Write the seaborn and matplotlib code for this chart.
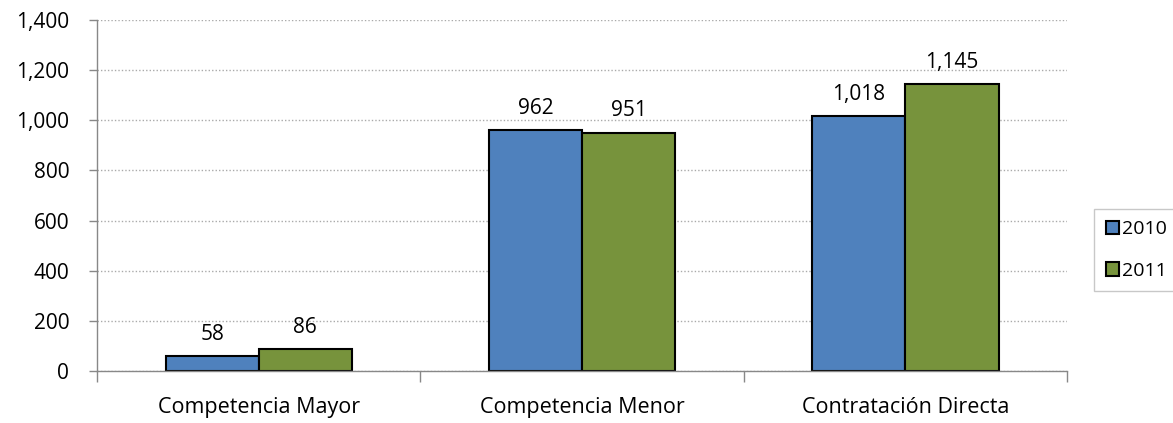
import pandas as pd
import matplotlib
matplotlib.use("Agg")
import matplotlib.pyplot as plt
import seaborn as sns

categories = ["Competencia Mayor", "Competencia Menor", "Contratación Directa"]
values_2010 = [58, 962, 1018]
values_2011 = [86, 951, 1145]
years = ["2010", "2011"]
y_ticks = [0, 200, 400, 600, 800, 1000, 1200, 1400]

df = pd.DataFrame({
    "categoria": categories * 2,
    "valor": values_2010 + values_2011,
    "anio": [years[0]] * 3 + [years[1]] * 3,
})

sns.set_theme(style="white")
plt.rcParams["font.family"] = ["Open Sans", "DejaVu Sans"]
plt.rcParams["text.color"] = "black"
plt.rcParams["xtick.color"] = "black"
plt.rcParams["ytick.color"] = "black"

fig = plt.figure(figsize=(11.73, 4.23), dpi=100)
ax = fig.add_axes([0.0827, 0.1229, 0.827, 0.830])

sns.barplot(data=df, x="categoria", y="valor", hue="anio", ax=ax,
            palette=["#4F81BD", "#77933C"], width=0.576,
            edgecolor="black", linewidth=1.5, saturation=1)

for container in ax.containers:
    ax.bar_label(container, labels=[f"{v:,.0f}" for v in container.datavalues],
                 padding=8, fontsize=15)

ax.set_ylim(0, 1400)
ax.set_xlim(-0.5, 2.5)
ax.set_yticks(y_ticks)
ax.set_yticklabels([f"{v:,}" for v in y_ticks], fontsize=15)
ax.yaxis.grid(True, linestyle=(0, (1, 1.5)), color="#AAAAAA", linewidth=1)
ax.set_axisbelow(True)

ax.set_xticks([-0.5, 0.5, 1.5, 2.5])
ax.set_xticklabels([])
ax.set_xticks([0, 1, 2], minor=True)
ax.set_xticklabels(categories, minor=True, fontsize=15.5)
ax.tick_params(axis="x", which="major", length=8, color="#888888", width=1, direction="out", bottom=True)
ax.tick_params(axis="x", which="minor", length=0, pad=19)
ax.tick_params(axis="y", length=6, color="#888888", width=1, direction="out", left=True, pad=14)

for side in ["top", "right"]:
    ax.spines[side].set_visible(False)
for side in ["left", "bottom"]:
    ax.spines[side].set_color("#888888")
    ax.spines[side].set_linewidth(1)

ax.set_xlabel("")
ax.set_ylabel("")

leg = ax.legend(loc="center left", bbox_to_anchor=(0.9327, 0.409),
                bbox_transform=fig.transFigure, fontsize=14,
                frameon=True, fancybox=False, handlelength=0.7, handleheight=0.7,
                handletextpad=0.15, labelspacing=1.2, borderpad=0.6, borderaxespad=0)
leg.get_frame().set_edgecolor("#BBBBBB")
leg.get_frame().set_linewidth(1)
for h in leg.legend_handles:
    h.set_edgecolor("black")
    h.set_linewidth(1.5)

fig.savefig("out.png", dpi=100)
